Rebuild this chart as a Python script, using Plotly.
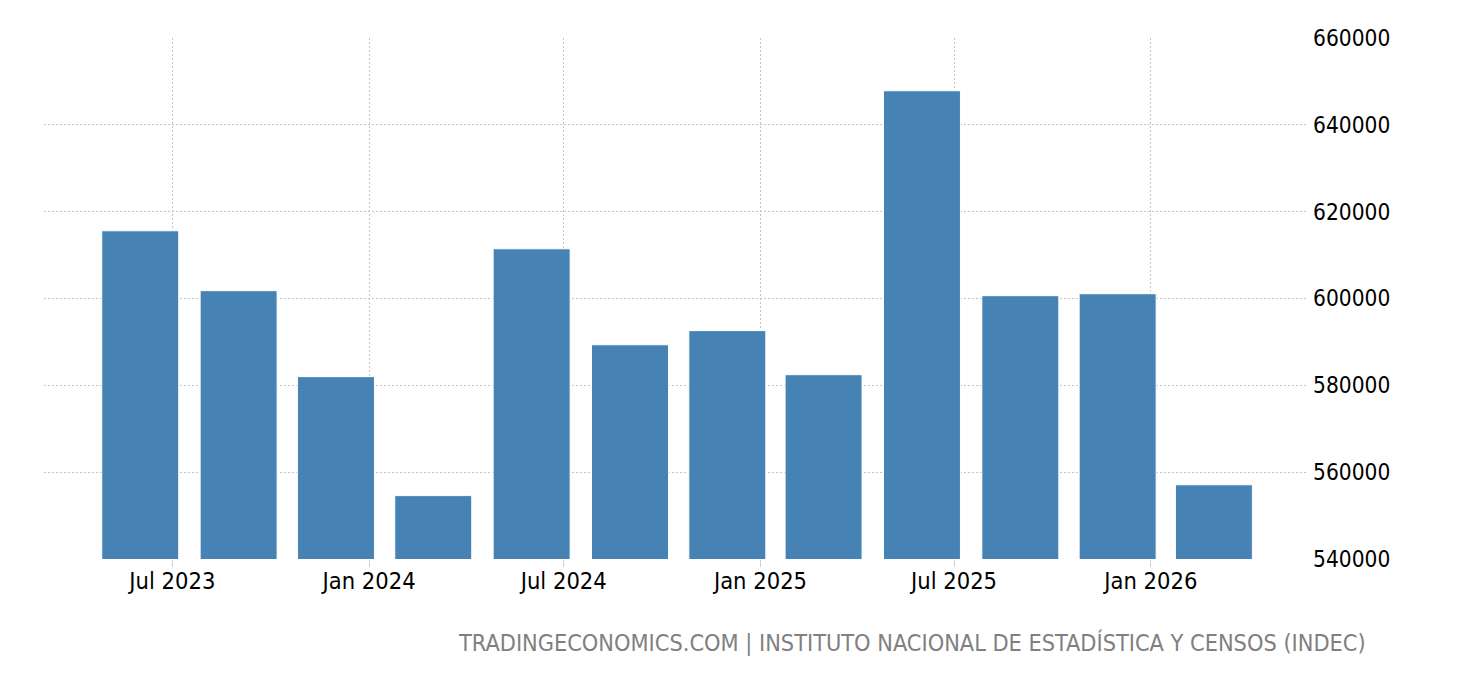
import plotly.graph_objects as go

dates = ["2023-06-01", "2023-09-01", "2023-12-01", "2024-03-01",
         "2024-06-01", "2024-09-01", "2024-12-01", "2025-03-01",
         "2025-06-01", "2025-09-01", "2025-12-01", "2026-03-01"]
values = [615600, 601800, 582000, 554600,
          611450, 589350, 592600, 582450,
          647850, 600650, 601100, 557100]
y_ticks = [540000, 560000, 580000, 600000, 620000, 640000, 660000]
source_text = "TRADINGECONOMICS.COM | INSTITUTO NACIONAL DE ESTADÍSTICA Y CENSOS (INDEC)"

FONT = "DejaVu Sans Condensed, DejaVu Sans, sans-serif"

fig = go.Figure()
fig.add_trace(go.Bar(
    x=dates, y=values,
    marker=dict(color="#4682b4", line=dict(color="#ffffff", width=1)),
    width=72 * 86400000,
    hoverinfo="x+y",
))

fig.update_layout(
    width=1452, height=672,
    margin=dict(l=36, r=152, t=30, b=121),
    paper_bgcolor="white", plot_bgcolor="white",
    showlegend=False,
    font=dict(family=FONT, size=22, color="#000000"),
    xaxis=dict(
        type="date",
        range=["2023-03-03", "2026-05-28"],
        tick0="2023-01-01", dtick="M6",
        tickformat="%b %Y",
        showgrid=True, gridcolor="#c4c4c4", griddash="2px,2px", gridwidth=1,
        ticks="outside", ticklen=7, tickcolor="#d0d0d0", tickwidth=1,
        ticklabelstandoff=-6,
        showline=False, zeroline=False,
        tickfont=dict(family=FONT, size=23.5, color="#000000"),
    ),
    yaxis=dict(
        side="right",
        range=[540000, 660000],
        tickvals=y_ticks,
        ticktext=[str(v) for v in y_ticks],
        showgrid=True, gridcolor="#c4c4c4", griddash="2px,2px", gridwidth=1,
        ticks="", showline=False, zeroline=False,
        ticklabelstandoff=4,
        tickfont=dict(family=FONT, size=22.5, color="#000000"),
    ),
    annotations=[dict(
        text=source_text, xref="paper", yref="paper",
        x=(1368 - 44) / (1308 - 44), y=(559 - 642) / 521,
        xanchor="right", yanchor="middle", showarrow=False,
        font=dict(family=FONT, size=23.3, color="#808080"),
    )],
)

fig.write_html("out.html")
